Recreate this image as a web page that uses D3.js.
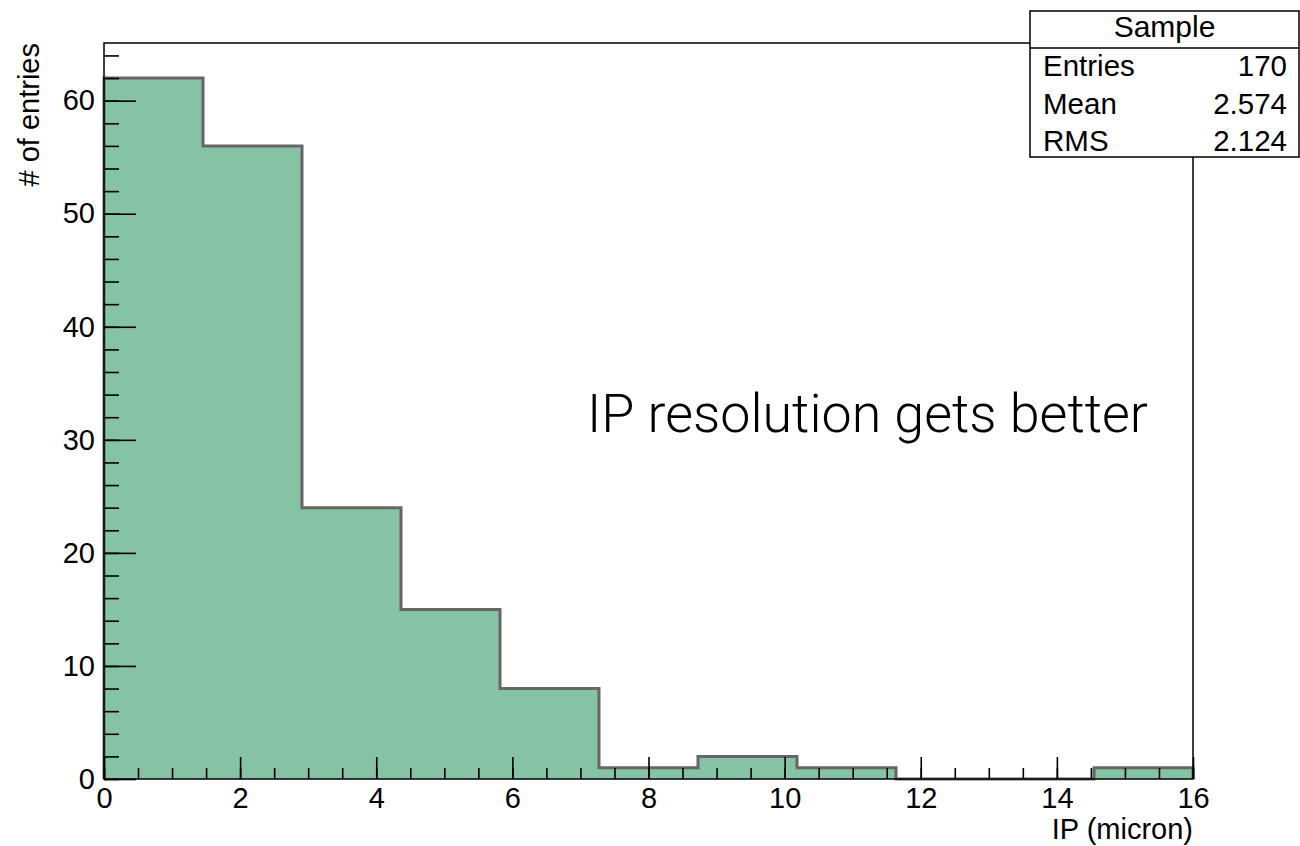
<!DOCTYPE html>
<html>
<head>
<meta charset="utf-8">
<script src="https://cdn.jsdelivr.net/npm/d3@7"></script>
<style>
  body { margin: 0; background: #fff; }
  svg { font-family: "Liberation Sans", Arial, Helvetica, sans-serif; }
</style>
</head>
<body>
<svg id="chart"></svg>
<script>
// histogram definition
var xMin = 0, xMax = 16;
var binCounts = [62, 56, 24, 15, 8, 1, 2, 1, 0, 0, 1];
var yMax = 65.1;

var xMajorTicks = [0, 2, 4, 6, 8, 10, 12, 14, 16];
var yMajorTicks = [0, 10, 20, 30, 40, 50, 60];

var statsTitle = "Sample";
var statsLabels = ["Entries", "Mean", "RMS"];
var statsValues = ["170", "2.574", "2.124"];

var xTitle = "IP (micron)";
var yTitle = "# of entries";
var note = "IP resolution gets better";

var width = 1300, height = 846;
var margin = { top: 43, right: 107, bottom: 67, left: 104 };

var svg = d3.select('#chart')
            .attr('width', width)
            .attr('height', height);

var xScale = d3.scaleLinear()
               .domain([xMin, xMax])
               .range([margin.left, width - margin.right]);

var yScale = d3.scaleLinear()
               .domain([0, yMax])
               .range([height - margin.bottom, margin.top]);

var nBins = binCounts.length;
var binW = (xMax - xMin) / nBins;
var bins = binCounts.map((c, i) => ({ x0: xMin + i * binW, x1: xMin + (i + 1) * binW, c: c }));

// filled bars
svg.append('g')
   .selectAll('rect')
   .data(bins)
   .enter()
   .append('rect')
   .attr('x', d => xScale(d.x0))
   .attr('width', d => xScale(d.x1) - xScale(d.x0) + 0.5)
   .attr('y', d => yScale(d.c))
   .attr('height', d => yScale(0) - yScale(d.c))
   .attr('fill', '#86c2a4');

// outline (step)
var pts = [[xScale(xMin), yScale(0)]];
bins.forEach(b => {
  pts.push([xScale(b.x0), yScale(b.c)]);
  pts.push([xScale(b.x1), yScale(b.c)]);
});
pts.push([xScale(xMax), yScale(0)]);

svg.append('path')
   .attr('d', d3.line()(pts))
   .attr('fill', 'none')
   .attr('stroke', '#666')
   .attr('stroke-width', 3);

// x axis: minor then major
var xb = height - margin.bottom;
svg.append('g')
   .attr('transform', 'translate(0,' + xb + ')')
   .call(d3.axisBottom(xScale).tickValues(d3.range(xMin, xMax + 0.01, 0.5)).tickSizeInner(-11).tickSizeOuter(0).tickFormat(''))
   .call(g => g.select('.domain').remove());

svg.append('g')
   .attr('class', 'x_axis')
   .attr('transform', 'translate(0,' + xb + ')')
   .call(d3.axisBottom(xScale).tickValues(xMajorTicks).tickSizeInner(-22).tickSizeOuter(0).tickPadding(8).tickFormat(d3.format('d')))
   .call(g => g.select('.domain').remove());

// y axis: minor then major
svg.append('g')
   .attr('transform', 'translate(' + margin.left + ',0)')
   .call(d3.axisLeft(yScale).tickValues(d3.range(0, yMax, 2)).tickSizeInner(-15).tickSizeOuter(0).tickFormat(''))
   .call(g => g.select('.domain').remove());

svg.append('g')
   .attr('class', 'y_axis')
   .attr('transform', 'translate(' + margin.left + ',0)')
   .call(d3.axisLeft(yScale).tickValues(yMajorTicks).tickSizeInner(-32).tickSizeOuter(0).tickPadding(9).tickFormat(d3.format('d')))
   .call(g => g.select('.domain').remove());

svg.selectAll('.tick line').attr('stroke', '#000').attr('stroke-width', 1.6);
svg.selectAll('.x_axis text, .y_axis text')
   .style('font-size', '29px')
   .attr('fill', '#000')
   .style('font-family', '"Liberation Sans", Arial, sans-serif');

// frame
svg.append('rect')
   .attr('x', xScale(xMin))
   .attr('y', yScale(yMax))
   .attr('width', xScale(xMax) - xScale(xMin))
   .attr('height', yScale(0) - yScale(yMax))
   .attr('fill', 'none')
   .attr('stroke', '#000')
   .attr('stroke-width', 1.5);

// axis titles
svg.append('text')
   .attr('x', xScale(xMax))
   .attr('y', 839)
   .attr('text-anchor', 'end')
   .style('font-size', '29px')
   .text(xTitle);

svg.append('text')
   .attr('transform', 'translate(39,' + (yScale(yMax)) + ') rotate(-90)')
   .attr('text-anchor', 'end')
   .style('font-size', '29px')
   .text(yTitle);

// annotation
svg.append('text')
   .attr('x', 587)
   .attr('y', 432)
   .style('font-family', 'Roboto, "Open Sans", "Liberation Sans", sans-serif')
   .style('font-weight', 300)
   .style('font-variant-ligatures', 'none')
   .style('font-size', '54px')
   .attr('textLength', 561)
   .attr('lengthAdjust', 'spacingAndGlyphs')
   .text(note);

// stats box
var box = { x: 1030, y: 11, w: 269, h: 146 };
var stats = svg.append('g');
stats.append('rect')
     .attr('x', box.x).attr('y', box.y)
     .attr('width', box.w).attr('height', box.h)
     .attr('fill', '#fff')
     .attr('stroke', '#000')
     .attr('stroke-width', 1.5);
stats.append('line')
     .attr('x1', box.x).attr('x2', box.x + box.w)
     .attr('y1', 48).attr('y2', 48)
     .attr('stroke', '#000')
     .attr('stroke-width', 1.5);
stats.append('text')
     .attr('x', box.x + box.w / 2)
     .attr('y', 37)
     .attr('text-anchor', 'middle')
     .style('font-size', '30px')
     .text(statsTitle);
stats.selectAll('text.lab')
     .data(statsLabels)
     .enter()
     .append('text')
     .attr('class', 'lab')
     .attr('x', 1043)
     .attr('y', (d, i) => 76 + i * 37.5)
     .style('font-size', '29.5px')
     .text(d => d);
stats.selectAll('text.val')
     .data(statsValues)
     .enter()
     .append('text')
     .attr('class', 'val')
     .attr('x', 1287)
     .attr('y', (d, i) => 76 + i * 37.5)
     .attr('text-anchor', 'end')
     .style('font-size', '29.5px')
     .text(d => d);
</script>
</body>
</html>
